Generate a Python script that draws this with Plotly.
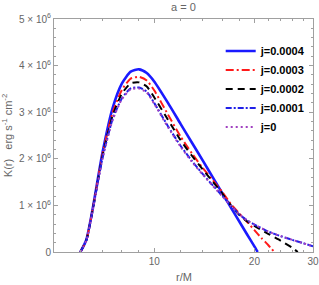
import math
import plotly.graph_objects as go

# ---- data, K in units of 10^6 erg s^-1 cm^-2 ----
r_j4 = [6, 6.25, 6.5, 7, 7.5, 8, 8.5, 9, 9.5, 10, 11, 12, 13, 14, 15, 16, 17, 18, 19, 20, 20.46]
K_j4 = [0, 0.26, 0.84, 2.15, 3.09, 3.62, 3.87, 3.92, 3.84, 3.66, 3.20, 2.75, 2.34, 1.96, 1.60, 1.27, 0.955, 0.66, 0.38, 0.12, 0]

r_j3 = [6, 6.25, 6.5, 7, 7.5, 8, 8.5, 9, 9.5, 10, 11, 12, 13, 14, 15, 16, 17, 18, 19, 20, 21, 22, 22.97]
K_j3 = [0, 0.25, 0.83, 2.11, 2.99, 3.48, 3.72, 3.76, 3.68, 3.47, 2.95, 2.48, 2.11, 1.80, 1.54, 1.29, 1.03, 0.83, 0.65, 0.47, 0.30, 0.15, 0]

r_j2 = [6, 6.25, 6.5, 7, 7.5, 8, 8.5, 9, 9.5, 10, 11, 12, 13, 14, 15, 16, 17, 18, 19, 20, 22, 24, 26, 27]
K_j2 = [0, 0.25, 0.82, 2.07, 2.92, 3.40, 3.62, 3.64, 3.55, 3.32, 2.84, 2.40, 2.06, 1.77, 1.51, 1.26, 1.0, 0.80, 0.66, 0.56, 0.39, 0.24, 0.09, 0]

r_j1 = [6, 6.25, 6.5, 7, 7.5, 8, 8.5, 9, 9.5, 10, 11, 12, 13, 14, 15, 16, 17, 18, 19, 20, 22, 24, 26, 28, 30]
K_j1 = [0, 0.24, 0.81, 2.03, 2.85, 3.30, 3.51, 3.53, 3.44, 3.20, 2.70, 2.28, 1.95, 1.67, 1.43, 1.21, 1.0, 0.81, 0.68, 0.59, 0.44, 0.34, 0.26, 0.19, 0.12]

r_j0 = [6, 6.25, 6.5, 7, 7.5, 8, 8.5, 9, 9.5, 10, 11, 12, 13, 14, 15, 16, 17, 18, 19, 20, 22, 24, 26, 28, 30]
K_j0 = [0, 0.24, 0.80, 2.01, 2.83, 3.28, 3.49, 3.51, 3.42, 3.18, 2.68, 2.26, 1.93, 1.66, 1.42, 1.20, 0.99, 0.81, 0.68, 0.59, 0.44, 0.34, 0.26, 0.19, 0.12]

names = ["j=0.0004", "j=0.0003", "j=0.0002", "j=0.0001", "j=0"]
y_tickvals = [0, 1e6, 2e6, 3e6, 4e6, 5e6]
y_ticktext = ["0", "1 × 10<sup>6</sup>", "2 × 10<sup>6</sup>", "3 × 10<sup>6</sup>",
              "4 × 10<sup>6</sup>", "5 × 10<sup>6</sup>"]
x_tickvals = [10, 20, 30]
x_ticktext = ["10", "20", "30"]
x_minor = [6, 7, 8, 9, 12, 14, 16, 18, 22, 24, 26, 28]
x_min, x_max = 5, 30

series = [
    (r_j4, K_j4, "#1a1aff", 2.6, "solid"),
    (r_j3, K_j3, "#ff1a1a", 2.0, "8px,3px,2px,3px"),
    (r_j2, K_j2, "#000000", 2.0, "7px,5px"),
    (r_j1, K_j1, "#2020e8", 2.0, "6px,2px,2px,2px"),
    (r_j0, K_j0, "#a040c0", 2.0, "2px,3px"),
]

fig = go.Figure()
for i in range(5):
    r, K, c, w, d = series[i]
    fig.add_trace(go.Scatter(
        x=r, y=[k * 1e6 for k in K], mode="lines", name=names[i],
        line=dict(color=c, width=w, dash=d, shape="spline", smoothing=0.6),
    ))

axis_col = "#a0a0a0"
fig.update_layout(
    width=319, height=285,
    margin=dict(l=54, r=6, t=19, b=33),
    paper_bgcolor="white", plot_bgcolor="white",
    font=dict(family="Liberation Sans, Arial, sans-serif", size=10, color="#666666"),
    title=dict(text="a = 0", x=0.575, xanchor="center", y=0.99, yanchor="top",
               font=dict(size=11, color="#666666")),
    showlegend=True,
    legend=dict(x=0.995, xanchor="right", y=0.925, yanchor="top",
                bgcolor="rgba(0,0,0,0)", font=dict(size=11, color="#000000",
                family="Liberation Sans, Arial, sans-serif", weight="bold"),
                tracegroupgap=0, itemwidth=30),
    annotations=[dict(text="r/M", xref="paper", yref="paper", x=0.5, y=-0.107,
                      xanchor="center", yanchor="middle", showarrow=False,
                      font=dict(size=11, color="#666666"))],
)
fig.update_xaxes(
    type="log", range=[math.log10(x_min) - 1e-6, math.log10(x_max) + 1e-6],
    showgrid=False, zeroline=False, automargin=False,
    showline=True, linecolor=axis_col, linewidth=1, mirror="ticks",
    ticks="inside", ticklen=4, tickcolor=axis_col,
    tickmode="array", tickvals=x_tickvals, ticktext=x_ticktext,
    minor=dict(tickmode="array", tickvals=x_minor,
               ticks="inside", ticklen=2, tickcolor=axis_col),
)
fig.update_yaxes(
    range=[0, 5e6], showgrid=False, zeroline=False,
    automargin=False,
    showline=True, linecolor=axis_col, linewidth=1, mirror="ticks",
    ticks="inside", ticklen=4, tickcolor=axis_col,
    tickmode="array", tickvals=y_tickvals, ticktext=y_ticktext,
    minor=dict(dtick=2e5, ticks="inside", ticklen=2, tickcolor=axis_col),
    title=dict(text="K(r)   erg s<sup>-1</sup> cm<sup>-2</sup>", standoff=4,
               font=dict(size=11, color="#666666")),
)

fig.write_html("out.html", config={"displayModeBar": False},
               post_script="document.body.style.margin='0';")
